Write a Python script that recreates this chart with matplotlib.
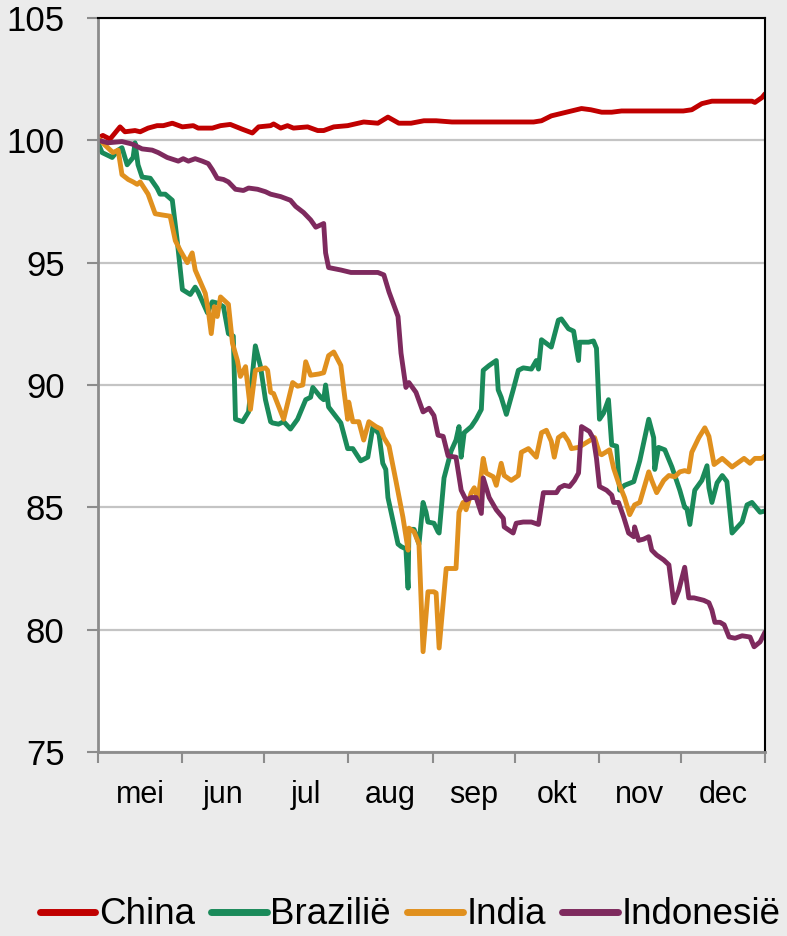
import numpy as np
import matplotlib.pyplot as plt

CHINA_DAYS = [0, 1.8, 4.4, 8.1, 9.9, 13.6, 15.5, 18.4, 21.7, 24, 27.3, 31, 35, 36.8, 42, 45, 48.6,
              53.1, 56.7, 59, 63.4, 64.5, 67.1, 69.6, 71.8, 77, 80.7, 82.9, 86.6, 91.7, 97.6, 102.8,
              106.5, 110.5, 115, 119.7, 124.2, 130, 140, 150, 160, 162.9, 166.5, 170.2, 173.9, 177.6,
              181, 185, 188.7, 192.3, 200, 208, 215, 218.1, 221.8, 225.5, 232.9, 240.2, 241.3, 243.9, 245]
CHINA = [100.1, 100.2, 100.05, 100.55, 100.35, 100.4, 100.35, 100.5, 100.6, 100.6, 100.7, 100.55, 100.6,
         100.5, 100.5, 100.6, 100.65, 100.45, 100.3, 100.55, 100.6, 100.67, 100.5, 100.6, 100.5, 100.55,
         100.4, 100.4, 100.55, 100.6, 100.75, 100.7, 100.95, 100.7, 100.7, 100.8, 100.8, 100.75, 100.75,
         100.75, 100.75, 100.8, 101.0, 101.1, 101.2, 101.3, 101.25, 101.15, 101.15, 101.2, 101.2, 101.2,
         101.2, 101.25, 101.5, 101.6, 101.6, 101.6, 101.55, 101.75, 101.9]

BRAZIL_DAYS = [0, 1.5, 5.2, 7.4, 8.8, 10.7, 12.9, 13.6, 14.7, 16.2, 19.2, 21.7, 22.8, 24.7, 27.3, 29.1,
               31, 33.9, 35.7, 36.8, 40.2, 42, 43.8, 46.1, 47.9, 49.7, 50.5, 53.1, 55.3, 57.8, 59.7,
               61.5, 63.4, 64.1, 66.3, 68.2, 70.7, 73.3, 76.3, 78.1, 78.9, 81.8, 82.9, 83.6, 84.7, 89.2,
               91.7, 93.6, 96.5, 99.1, 101, 103.2, 104.6, 105.7, 106.5, 110.2, 111.3, 113.1, 113.9,
               114.2, 116.1, 117.9, 119.4, 120.5, 121.2, 123.4, 124.9, 125.3, 127.1, 129.7, 131.5,
               132.6, 133.4, 134.5, 137.1, 138.9, 140.8, 141.5, 143.7, 146.3, 147, 148.1, 150, 152.5,
               154.4, 156.2, 159.2, 161, 161.8, 162.9, 166.5, 169.1, 170.2, 172.8, 174.7, 176.5, 176.9,
               180.2, 182, 183.1, 184.2, 185.7, 187.5, 188.7, 190.5, 191.6, 193.4, 196.8, 199, 202.3,
               204.1, 204.5, 205.9, 208.2, 210.8, 213.7, 215.5, 216.3, 217.4, 219.2, 221.8, 223.7,
               224.4, 225.5, 227.4, 229.3, 231, 232.9, 236.6, 238.4, 240.2, 243.2, 245]
BRAZIL = [99.9, 99.5, 99.3, 99.6, 99.7, 99.0, 99.3, 99.9, 99.0, 98.5, 98.45, 98.05, 97.8, 97.8, 97.55,
          95.9, 93.9, 93.7, 94.0, 93.8, 92.95, 93.4, 93.35, 93.2, 92.1, 92.0, 88.6, 88.5, 88.9, 91.6,
          90.75, 89.4, 88.5, 88.45, 88.4, 88.5, 88.2, 88.6, 89.4, 89.5, 89.9, 89.5, 89.4, 90.0, 89.1,
          88.45, 87.4, 87.4, 86.9, 87.05, 88.3, 88.0, 86.8, 86.55, 85.4, 83.5, 83.4, 83.3, 81.7, 84.1,
          84.1, 83.5, 85.2, 84.8, 84.4, 84.35, 84.0, 83.95, 86.2, 87.3, 87.75, 88.3, 87.05, 88.05, 88.3,
          88.6, 89.0, 90.6, 90.8, 91.0, 89.8, 89.5, 88.8, 89.8, 90.6, 90.7, 90.65, 91.0, 90.65, 91.85,
          91.55, 92.65, 92.7, 92.3, 92.2, 91.0, 91.75, 91.75, 91.8, 91.5, 88.6, 88.85, 89.4, 87.55,
          87.5, 85.7, 85.9, 86.05, 86.9, 88.6, 87.85, 86.55, 87.45, 87.35, 86.65, 85.7, 85.0, 84.95,
          84.3, 85.7, 86.1, 86.7, 85.8, 85.2, 86.0, 86.3, 86.05, 83.95, 84.4, 85.1, 85.2, 84.8, 84.85]

INDIA_DAYS = [0, 2.6, 5.5, 7.4, 8.8, 11.1, 12.9, 14.4, 15.5, 18.4, 21, 23.6, 26.5, 28.4, 30.2, 32.8,
              34.6, 35.7, 39.4, 40.5, 41.6, 42.7, 43.8, 45, 47.9, 49.4, 51.2, 52.3, 54.2, 56, 57.8,
              61.5, 62.3, 63.4, 64.5, 68.2, 71.5, 73.3, 75.2, 76.3, 78.1, 81.1, 82.9, 84.7, 86.6, 89.2,
              90.3, 91.7, 92.1, 93.6, 95.8, 97.6, 99.5, 102.1, 103.9, 105, 106.9, 109.4, 112, 113.9,
              114.2, 116.1, 117.9, 119.4, 121.2, 123.4, 124.2, 125.3, 127.9, 131.5, 132.6, 134.1,
              135.2, 137.1, 138.2, 139.6, 141.5, 142.6, 145.2, 146.3, 148.1, 149.2, 151.8, 154.4,
              155.5, 158.1, 161, 162.9, 164.7, 166.5, 167.6, 169.1, 171, 172.8, 173.9, 176.5, 178.7,
              182.4, 184.2, 185, 187.9, 189.4, 191.2, 193.4, 195.3, 197.1, 199, 202.3, 203.4, 205.2,
              207.8, 209.7, 211.9, 213.7, 215.5, 217, 218.1, 220.7, 222.9, 224.4, 226.3, 229.3, 232.9,
              237.3, 239.5, 241.3, 243.9, 245]
INDIA = [100.1, 99.8, 99.5, 99.6, 98.6, 98.4, 98.3, 98.2, 98.3, 97.8, 97.0, 96.95, 96.9, 95.9, 95.5,
         95.0, 95.4, 94.7, 93.75, 93.05, 92.1, 93.2, 92.8, 93.6, 93.3, 91.7, 91.0, 90.35, 90.75, 89.0,
         90.6, 90.7, 90.6, 89.7, 89.65, 88.6, 90.1, 89.95, 90.0, 90.95, 90.4, 90.45, 90.5, 91.2, 91.35,
         90.8, 89.8, 88.6, 89.3, 88.5, 88.5, 87.75, 88.5, 88.3, 88.2, 87.85, 87.5, 86.1, 84.6, 83.25,
         84.15, 84.0, 83.5, 79.1, 81.55, 81.55, 81.5, 79.25, 82.5, 82.5, 84.8, 85.2, 84.9, 85.6, 85.8,
         85.3, 87.0, 86.4, 86.25, 85.9, 86.8, 86.3, 86.1, 86.3, 87.25, 87.4, 87.05, 88.05, 88.15, 87.7,
         87.05, 87.85, 88.0, 87.7, 87.4, 87.45, 87.6, 87.85, 87.2, 87.15, 87.35, 86.6, 86.0, 85.4,
         84.7, 85.1, 85.2, 86.45, 86.1, 85.6, 86.1, 86.3, 86.25, 86.45, 86.5, 86.45, 87.25, 87.85,
         88.25, 87.9, 86.75, 87.0, 86.65, 87.0, 86.8, 87.0, 87.0, 87.1]

INDONESIA_DAYS = [0, 3.7, 8.8, 12.5, 16.2, 19.9, 22.1, 25.4, 29.5, 31.3, 33.2, 35.7, 38.3, 40.5, 42,
                  43.8, 46.1, 47.9, 50.5, 53.4, 55.3, 58.6, 61.5, 63.4, 67.1, 70.7, 72.6, 75.5, 78.1,
                  80, 82.9, 83.6, 84.7, 89.2, 92.9, 99.1, 102.8, 105, 106.9, 110.2, 111.3, 113.1,
                  114.2, 116.8, 119.4, 121.6, 123.4, 124.9, 126.8, 128.6, 131.5, 133.4, 135.2, 137.1,
                  138.9, 140.8, 141.5, 143.7, 146.3, 148.9, 149.2, 152.5, 153.6, 156.2, 159.2, 161.8,
                  163.6, 168.4, 169.5, 171.3, 173.2, 175, 176.5, 177.6, 180.5, 182, 183.1, 184.2,
                  186.8, 188.7, 189.4, 191.2, 193.1, 194.9, 196.8, 197.1, 198.6, 200.4, 202.3, 203.4,
                  205.2, 207.8, 209.7, 211.5, 213.3, 215.5, 217, 218.9, 222.5, 224.4, 225.5, 226.6,
                  228.5, 230, 231.8, 234, 236.6, 239.5, 241, 243.2, 245]
INDONESIA = [100.0, 99.9, 99.95, 99.85, 99.65, 99.6, 99.5, 99.3, 99.15, 99.25, 99.15, 99.25, 99.15,
             99.05, 98.8, 98.45, 98.4, 98.3, 98.0, 97.95, 98.05, 98.0, 97.9, 97.8, 97.7, 97.55, 97.3,
             97.05, 96.75, 96.45, 96.6, 95.4, 94.8, 94.7, 94.6, 94.6, 94.6, 94.5, 93.8, 92.8, 91.3,
             89.9, 90.1, 89.7, 88.9, 89.05, 88.75, 87.95, 87.9, 87.1, 87.05, 85.7, 85.3, 85.4, 85.4,
             84.75, 86.2, 85.4, 84.9, 84.55, 84.2, 83.95, 84.35, 84.4, 84.4, 84.3, 85.6, 85.6, 85.8,
             85.9, 85.85, 86.1, 86.4, 88.3, 88.1, 87.8, 87.0, 85.85, 85.7, 85.5, 85.2, 85.2, 84.6,
             83.95, 83.8, 84.2, 83.65, 83.7, 83.8, 83.25, 83.05, 82.85, 82.65, 81.1, 81.6, 82.55,
             81.3, 81.3, 81.2, 81.1, 80.8, 80.3, 80.3, 80.2, 79.7, 79.65, 79.75, 79.7, 79.3, 79.5, 79.9]

MONTH_STARTS = [0, 31, 61, 92, 123, 153, 184, 214, 245]
MONTHS = ['mei', 'jun', 'jul', 'aug', 'sep', 'okt', 'nov', 'dec']
SERIES = [('China', CHINA_DAYS, CHINA, '#c00000'),
          ('Brazilië', BRAZIL_DAYS, BRAZIL, '#1a8a5a'),
          ('India', INDIA_DAYS, INDIA, '#e0901e'),
          ('Indonesië', INDONESIA_DAYS, INDONESIA, '#7e2a5e')]

BG = '#ebebeb'
GRID = '#c4c4c4'
AXIS = '#8c8c8c'

plt.rcParams['font.family'] = ['Liberation Sans', 'DejaVu Sans']

fig = plt.figure(figsize=(7.87, 9.36), dpi=100, facecolor=BG)
ax = fig.add_axes([98 / 787, 1 - 752 / 936, 667 / 787, 734 / 936])
ax.set_facecolor('white')

for name, days, vals, col in SERIES:
    ax.plot(days, vals, color=col, lw=3.5, label=name, solid_joinstyle='round', solid_capstyle='round')

ax.set_xlim(0, 245)
ax.set_ylim(75, 105)
ax.set_yticks(np.arange(75, 106, 5))
ax.yaxis.grid(True, color=GRID, lw=1.6)
ax.set_axisbelow(True)

ax.set_xticks(MONTH_STARTS)
ax.set_xticklabels([])
mids = [(a + b) / 2 for a, b in zip(MONTH_STARTS[:-1], MONTH_STARTS[1:])]
ax.set_xticks(mids, minor=True)
ax.set_xticklabels(MONTHS, minor=True, fontsize=22)
ax.tick_params(axis='x', which='minor', length=0, pad=20)
ax.tick_params(axis='x', which='major', length=8, width=1.5, color=AXIS)
ax.tick_params(axis='y', length=8, width=1.5, color=AXIS, labelsize=25, pad=16)

ax.spines['left'].set_color(AXIS)
ax.spines['bottom'].set_color(AXIS)
ax.spines['left'].set_linewidth(2)
ax.spines['bottom'].set_linewidth(2)
ax.spines['top'].set_color('black')
ax.spines['right'].set_color('black')
ax.spines['top'].set_linewidth(1.5)
ax.spines['right'].set_linewidth(1.5)

leg = fig.legend(loc='center', bbox_to_anchor=(0.521, 1 - 915 / 936), ncol=4, frameon=False,
                 fontsize=26.5, handlelength=1.5, handletextpad=0.1, columnspacing=0.45,
                 borderpad=0, borderaxespad=0)
for line in leg.get_lines():
    line.set_linewidth(5)

fig.savefig('out.png', dpi=100, facecolor=BG)
